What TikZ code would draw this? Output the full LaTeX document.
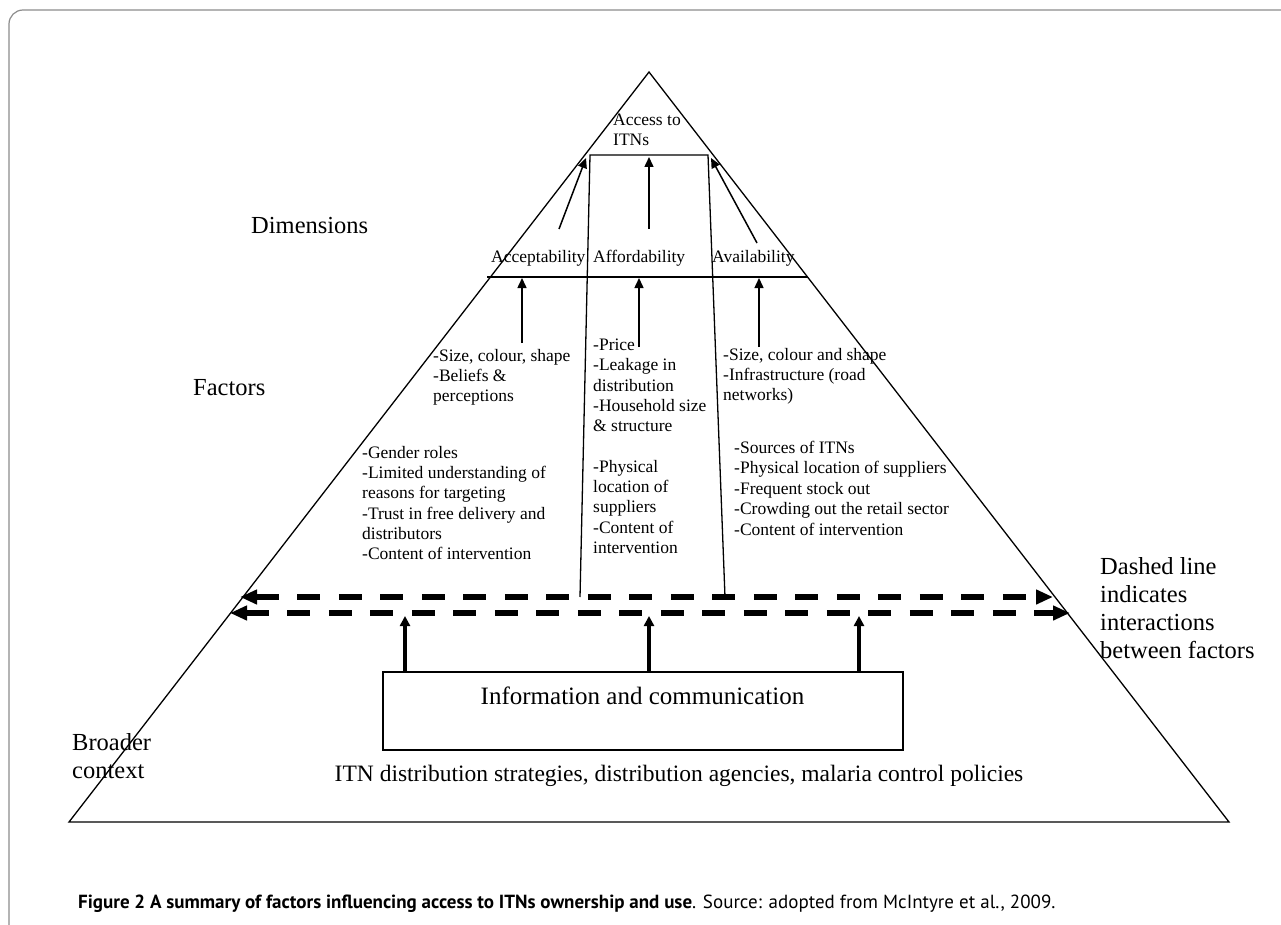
\documentclass[tikz,border=0pt]{standalone}
\usepackage{fontspec}
\setmainfont{Liberation Serif}
\newfontfamily\capfont{PT Sans}
\usetikzlibrary{arrows.meta}

\begin{document}
\begin{tikzpicture}[x=1pt,y=-1pt,
        edge/.style={line width=1.3pt},
        txt/.style={inner sep=0pt,anchor=north west,yshift=14.21pt,align=left,execute at begin node=\strut,font=\fontsize{17.5}{20.3}\selectfont},
        big/.style={inner sep=0pt,anchor=north west,yshift=19.46pt,align=left,execute at begin node=\strut,font=\fontsize{24.5}{27.8}\selectfont},
        tip/.style={-{Triangle[length=10pt,width=9pt]},line width=1.5pt},
        boxtip/.style={-{Triangle[length=10pt,width=10pt]},line width=4pt},
        link/.style={{Triangle[length=17pt,width=14pt]}-{Triangle[length=17pt,width=14pt]},line width=6pt,dash pattern=on 23pt off 18.5pt}]
        \useasboundingbox (0,0) rectangle (1281,925);
        \draw[line width=1.2pt,color=black!45,rounded corners=14pt] (9,940) -- (9,10) -- (1300,10);
        \coordinate (T) at (649,72);
        \coordinate (L) at (69,822);
        \coordinate (R) at (1229,822);
        \coordinate (dimL) at (487,277);
        \coordinate (dimR) at (808,277);
        \coordinate (accL) at (590,155);
        \coordinate (accR) at (708,155);
        \coordinate (legL) at (580,597);
        \coordinate (legR) at (725,597);
        \draw[edge] (T) -- (L) -- (R) -- cycle;
        \draw[edge] (dimL) -- (dimR);
        \draw[edge] (legL) -- (accL) -- (accR) -- (legR);
        % arrows up to access
        \coordinate (s1) at (559,229);
        \coordinate (e1) at (586,158);
        \coordinate (s2) at (649,229);
        \coordinate (e2) at (649,157);
        \coordinate (s3) at (757,243);
        \coordinate (e3) at (711,158);
        \draw[tip] (s1) -- (e1);
        \draw[tip] (s2) -- (e2);
        \draw[tip] (s3) -- (e3);
        % arrows up to dimensions
        \coordinate (f1) at (522,343);
        \coordinate (g1) at (522,278);
        \coordinate (f2) at (639,347);
        \coordinate (g2) at (639,278);
        \coordinate (f3) at (759,347);
        \coordinate (g3) at (759,278);
        \draw[tip] (f1) -- (g1);
        \draw[tip] (f2) -- (g2);
        \draw[tip] (f3) -- (g3);
        % interactions
        \coordinate (ia1) at (240,597);
        \coordinate (ib1) at (1053,597);
        \coordinate (ia2) at (230,613);
        \coordinate (ib2) at (1070,613);
        \draw[link] (ia1) -- (ib1);
        \draw[link] (ia2) -- (ib2);
        % information box
        \node[draw,edge,minimum width=520pt,minimum height=78pt,inner sep=0pt] (info) at (643,711) {};
        \node[inner sep=0pt,anchor=base,font=\fontsize{25}{28}\selectfont] (infotxt) at (642.5,704) {Information and communication};
        \coordinate (up1) at (405,616);
        \coordinate (up2) at (649,616);
        \coordinate (up3) at (859,616);
        \draw[boxtip] (info.north -| up1) -- (up1);
        \draw[boxtip] (info.north -| up2) -- (up2);
        \draw[boxtip] (info.north -| up3) -- (up3);
        % labels
        \node[txt] (access) at (613,128) {Access to\\ITNs};
        \node[txt] (accept) at (491,262) {Acceptability};
        \node[txt] (afford) at (593,262) {Affordability};
        \node[txt] (avail) at (712,262) {Availability};
        \node[big] (dims) at (251,233) {Dimensions};
        \node[big] (facs) at (193,395) {Factors};
        \node[txt] (acc1) at (433,363) {-Size, colour, shape\\-Beliefs \&\\perceptions};
        \node[txt] (acc2) at (362,460) {-Gender roles\\-Limited understanding of\\reasons for targeting\\-Trust in free delivery and\\distributors\\-Content of intervention};
        \node[txt] (aff1) at (593,353) {-Price\\-Leakage in\\distribution\\-Household size\\\& structure\\[20.3pt]-Physical\\location of\\suppliers\\-Content of\\intervention};
        \node[txt] (ava1) at (723,362) {-Size, colour and shape\\-Infrastructure (road\\networks)};
        \node[txt,font=\fontsize{17.5}{20.5}\selectfont] (ava2) at (734,455) {-Sources of ITNs\\-Physical location of suppliers\\-Frequent stock out\\-Crowding out the retail sector\\-Content of intervention};
        \node[big] (dashnote) at (1100,577) {Dashed line\\indicates\\interactions\\between factors};
        \node[big] (broad) at (72,753) {Broader\\context};
        \node[inner sep=0pt,anchor=base,font=\fontsize{23.5}{27}\selectfont] (policy) at (679,781) {ITN distribution strategies, distribution agencies, malaria control policies};
        \node[inner sep=0pt,anchor=base west,font=\capfont\fontsize{19}{22}\selectfont] (caption) at (78,908) {\textbf{Figure 2 A summary of factors influencing access to ITNs ownership and use}. Source: adopted from McIntyre et al., 2009.};
\end{tikzpicture}
\end{document}
